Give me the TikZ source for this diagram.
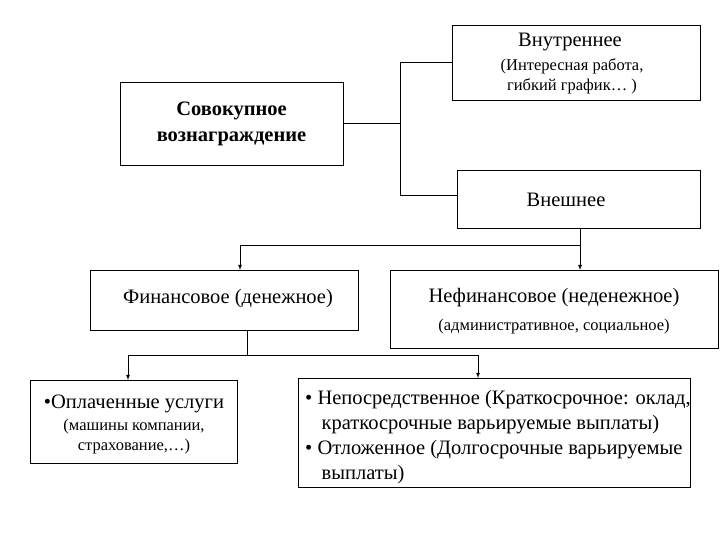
\documentclass[tikz,border=0pt]{standalone}
\usepackage{fontspec}
\setmainfont{Liberation Serif}
\begin{document}
\begin{tikzpicture}[x=1pt,y=-1pt,
 bx/.style={draw,line width=0.8pt,fill=white},
 ln/.style={line width=0.8pt},
 ar/.style={line width=0.8pt,-latex},
 big/.style={font=\fontsize{20.5}{25}\selectfont},
 sm/.style={font=\fontsize{16.5}{20}\selectfont}]
\useasboundingbox (0,0) rectangle (720,540);
\draw[bx] (120,82) rectangle (343,165);
\node[align=center,font=\bfseries\fontsize{20.5}{26}\selectfont] (sov) at (231.5,124) {Совокупное\\вознаграждение};
\draw[bx] (452,25) rectangle (700,100);
\node[big] (vn) at (570,42) {Внутреннее};
\node[sm,align=center] (vn2) at (572,76) {(Интересная работа,\\гибкий график… )};
\draw[bx] (457,170) rectangle (700,228);
\node[big] (vsh) at (566,200) {Внешнее};
\draw[bx] (90,270) rectangle (358,330);
\node[big] (fin) at (228,299) {Финансовое (денежное)};
\draw[bx] (390,270) rectangle (718,348);
\node[big] (nef) at (554,298) {Нефинансовое (неденежное)};
\node[sm] (nef2) at (554,327) {(административное, социальное)};
\draw[bx] (30,380) rectangle (237,463);
\node[big] (op) at (134,404) {•Оплаченные услуги};
\node[sm,align=center] (op2) at (134,437) {(машины компании,\\страхование,…)};
\draw[bx] (298,378) rectangle (690,487);
\node[big,align=left,anchor=north west,inner sep=0pt] (np) at (305,390) {• Непосредственное (Краткосрочное: оклад,\\\hspace*{0.8em}краткосрочные варьируемые выплаты)\\• Отложенное (Долгосрочные варьируемые\\\hspace*{0.8em}выплаты)};
\coordinate (j1) at (400,62);
\coordinate (j2) at (400,195);
\draw[ln] (343,123) -- (400,123);
\draw[ln] (452,62) -- (j1) -- (j2) -- (457,195);
\draw[ln] (580,228) -- (580,245);
\draw[ln] (240,245) -- (580,245);
\draw[ar] (240,245) -- (240,270);
\draw[ar] (580,245) -- (580,270);
\draw[ln] (247,330) -- (247,355);
\draw[ln] (128,355) -- (478,355);
\draw[ar] (128,355) -- (128,380);
\draw[ar] (478,355) -- (478,378);
\end{tikzpicture}
\end{document}
